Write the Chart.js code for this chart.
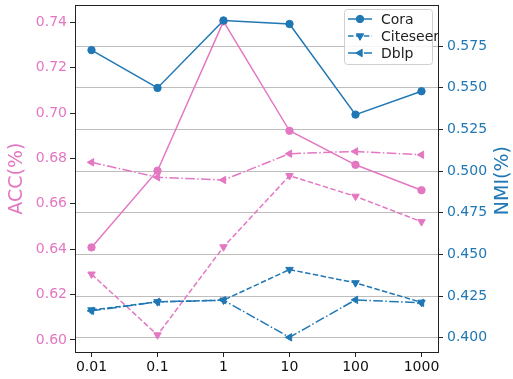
<!DOCTYPE html>
<html lang="en">
<head>
<meta charset="UTF-8">
<title>ACC / NMI</title>
<script src="https://cdn.jsdelivr.net/npm/chart.js@4"></script>
<style>
  body { margin: 0; background: #fff; }
  #box { width: 513px; height: 379px; }
</style>
</head>
<body>
<div id="box"><canvas id="grafico"></canvas></div>
<script>
const params = ['0.01', '0.1', '1', '10', '100', '1000']

// ACC (left axis)
const accCora = [0.6408, 0.6746, 0.7404, 0.6922, 0.6772, 0.6660]
const accCiteseer = [0.6290, 0.6022, 0.6410, 0.6724, 0.6633, 0.6521]
const accDblp = [0.6783, 0.6717, 0.6705, 0.6821, 0.6831, 0.6816]

// NMI (right axis)
const nmiCora = [0.5726, 0.5499, 0.5904, 0.5883, 0.5339, 0.5479]
const nmiCiteseer = [0.4166, 0.4215, 0.4225, 0.4409, 0.4329, 0.4212]
const nmiDblp = [0.4161, 0.4215, 0.4225, 0.4002, 0.4227, 0.4209]

const accTicks = [0.60, 0.62, 0.64, 0.66, 0.68, 0.70, 0.72, 0.74]
const nmiTicks = [0.400, 0.425, 0.450, 0.475, 0.500, 0.525, 0.550, 0.575]

const PINK = '#e377c2'
const BLUE = '#1f77b4'
const FONT = 'DejaVu Sans'
const DASHED = [5.5, 2.4]
const DASHDOT = [9.6, 2.4, 1.5, 2.4]

const pts = arr => arr.map((v, i) => ({ x: i, y: v }))

function serie(label, valores, cor, eixo, estilo) {
  const base = {
    label: label,
    data: pts(valores),
    yAxisID: eixo,
    borderColor: cor,
    backgroundColor: cor,
    pointBackgroundColor: cor,
    pointBorderColor: cor,
    borderWidth: 1.5,
    pointBorderWidth: 1,
    tension: 0
  }
  if (estilo === 'o') {
    base.pointStyle = 'circle'; base.pointRadius = 3.7
  } else if (estilo === 'v') {
    base.pointStyle = 'triangle'; base.pointRotation = 180; base.pointRadius = 4.3
    base.borderDash = DASHED
  } else {
    base.pointStyle = 'triangle'; base.pointRotation = 270; base.pointRadius = 4.3
    base.borderDash = DASHDOT
  }
  return base
}

const fixo = (largura, altura) => scale => {
  if (largura) scale.width = largura
  if (altura) scale.height = altura
  scale.paddingTop = 0; scale.paddingBottom = 0
  scale.paddingLeft = 0; scale.paddingRight = 0
}

const moldura = {
  id: 'moldura',
  afterDraw(chart) {
    const { ctx, chartArea: a } = chart
    ctx.save()
    // top spine
    ctx.strokeStyle = '#222'
    ctx.lineWidth = 1
    ctx.beginPath()
    ctx.moveTo(a.left, Math.round(a.top) + 0.5)
    ctx.lineTo(a.right, Math.round(a.top) + 0.5)
    ctx.stroke()

    // right title (reads bottom to top)
    ctx.translate(503, (a.top + a.bottom) / 2 + 2)
    ctx.rotate(-Math.PI / 2)
    ctx.fillStyle = BLUE
    ctx.font = '19px "' + FONT + '"'
    ctx.textAlign = 'center'
    ctx.textBaseline = 'middle'
    ctx.fillText('NMI(%)', 0, 0)
    ctx.restore()

    // legend inside plot
    const itens = chart.data.datasets.filter(d => d.yAxisID === 'yR')
    ctx.save()
    const bx = 344, by = 9, bw = 88, bh = 55
    ctx.fillStyle = 'rgba(255,255,255,0.85)'
    ctx.strokeStyle = '#d0d0d0'
    ctx.lineWidth = 1
    ctx.beginPath()
    ctx.roundRect(bx + 0.5, by + 0.5, bw, bh, 3)
    ctx.fill()
    ctx.stroke()
    itens.forEach((d, i) => {
      const yy = 19 + i * 17
      ctx.strokeStyle = d.borderColor
      ctx.lineWidth = d.borderWidth
      ctx.setLineDash(d.borderDash || [])
      ctx.beginPath()
      ctx.moveTo(348, yy)
      ctx.lineTo(372, yy)
      ctx.stroke()
      ctx.setLineDash([])
      ctx.fillStyle = d.pointBackgroundColor
      ctx.lineWidth = d.pointBorderWidth
      Chart.helpers.drawPoint(ctx, {
        pointStyle: d.pointStyle,
        rotation: d.pointRotation || 0,
        radius: d.pointRadius,
        borderWidth: d.pointBorderWidth
      }, 360, yy)
      ctx.fillStyle = '#222'
      ctx.font = '14px "' + FONT + '"'
      ctx.textAlign = 'left'
      ctx.textBaseline = 'middle'
      ctx.fillText(d.label, 381, yy + 1)
    })
    ctx.restore()
  }
}

const ctx = document.getElementById('grafico')

let grafico = new Chart(ctx, {
  type: 'line',
  data: {
    datasets: [
      serie('Cora', nmiCora, BLUE, 'yR', 'o'),
      serie('Citeseer', nmiCiteseer, BLUE, 'yR', 'v'),
      serie('Dblp', nmiDblp, BLUE, 'yR', '<'),
      serie('Cora', accCora, PINK, 'yL', 'o'),
      serie('Citeseer', accCiteseer, PINK, 'yL', 'v'),
      serie('Dblp', accDblp, PINK, 'yL', '<')
    ]
  },
  options: {
    responsive: true,
    maintainAspectRatio: false,
    animation: false,
    layout: { padding: { top: 4, right: 0, bottom: 0, left: 0 } },
    plugins: {
      legend: { display: false },
      tooltip: { enabled: false }
    },
    scales: {
      x: {
        type: 'linear',
        min: -0.25,
        max: 5.25,
        afterFit: fixo(null, 27),
        afterBuildTicks: scale => { scale.ticks = params.map((p, i) => ({ value: i })) },
        ticks: {
          callback: v => params[v],
          color: '#111',
          font: { family: FONT, size: 14 },
          padding: 2,
          maxRotation: 0
        },
        grid: { display: true, drawOnChartArea: false, tickLength: 5, tickColor: '#222' },
        border: { display: true, color: '#222', width: 1 }
      },
      yL: {
        type: 'linear',
        position: 'left',
        min: 0.5947,
        max: 0.7475,
        afterFit: fixo(75, null),
        afterBuildTicks: scale => { scale.ticks = accTicks.map(v => ({ value: v })) },
        ticks: {
          callback: v => v.toFixed(2),
          color: PINK,
          font: { family: FONT, size: 14 },
          padding: 3
        },
        grid: { display: true, drawOnChartArea: false, tickLength: 5, tickColor: '#222' },
        border: { display: true, color: '#222', width: 1 },
        title: {
          display: true,
          text: 'ACC(%)',
          color: PINK,
          font: { family: FONT, size: 19 },
          padding: { top: 6, bottom: 0 }
        }
      },
      yR: {
        type: 'linear',
        position: 'right',
        min: 0.3914,
        max: 0.5995,
        afterFit: fixo(75, null),
        afterBuildTicks: scale => { scale.ticks = nmiTicks.map(v => ({ value: v })) },
        ticks: {
          callback: v => v.toFixed(3),
          color: BLUE,
          font: { family: FONT, size: 14 },
          padding: 4
        },
        grid: { display: true, drawOnChartArea: true, color: '#bdbdbd', lineWidth: 1, tickLength: 5, tickColor: '#222' },
        border: { display: true, color: '#222', width: 1 }
      }
    }
  },
  plugins: [moldura]
})
</script>
</body>
</html>
